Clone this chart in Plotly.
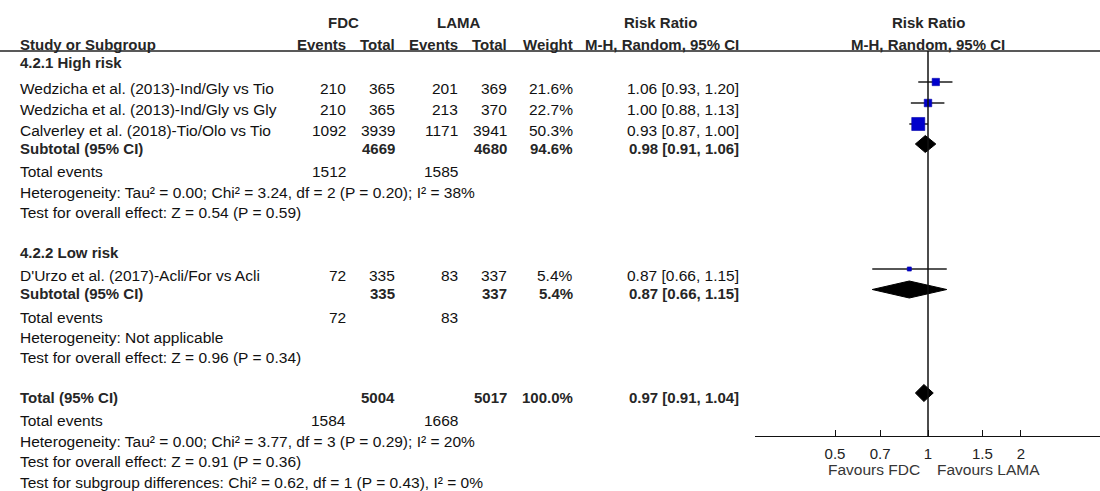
import plotly.graph_objects as go

W, H = 1100, 491
FONT = "Liberation Sans, Arial, sans-serif"
TXT = "#111111"
BOLD = "#262626"
BODY_SIZE = 15.5
HEAD_SIZE = 15

# ---- study-level data ----
studies = [
    "Wedzicha et al. (2013)-Ind/Gly vs Tio",
    "Wedzicha et al. (2013)-Ind/Gly vs Gly",
    "Calverley et al. (2018)-Tio/Olo vs Tio",
    "D'Urzo et al. (2017)-Acli/For vs Acli",
]
fdc_events = [210, 210, 1092, 72]
fdc_total = [365, 365, 3939, 335]
lama_events = [201, 213, 1171, 83]
lama_total = [369, 370, 3941, 337]
weights = [21.6, 22.7, 50.3, 5.4]
rr = [1.06, 1.00, 0.93, 0.87]
rr_lo = [0.93, 0.88, 0.87, 0.66]
rr_hi = [1.20, 1.13, 1.00, 1.15]

# ---- pooled estimates: two subgroups, then overall ----
pooled_labels = ["Subtotal (95% CI)", "Subtotal (95% CI)", "Total (95% CI)"]
pooled_fdc_total = [4669, 335, 5004]
pooled_lama_total = [4680, 337, 5017]
pooled_weight = [94.6, 5.4, 100.0]
pooled_rr = [0.98, 0.87, 0.97]
pooled_lo = [0.91, 0.66, 0.91]
pooled_hi = [1.06, 1.15, 1.04]
pooled_fdc_events = [1512, 72, 1584]
pooled_lama_events = [1585, 83, 1668]
heterogeneity = [
    "Heterogeneity: Tau² = 0.00; Chi² = 3.24, df = 2 (P = 0.20); I² = 38%",
    "Heterogeneity: Not applicable",
    "Heterogeneity: Tau² = 0.00; Chi² = 3.77, df = 3 (P = 0.29); I² = 20%",
]
overall_effect = [
    "Test for overall effect: Z = 0.54 (P = 0.59)",
    "Test for overall effect: Z = 0.96 (P = 0.34)",
    "Test for overall effect: Z = 0.91 (P = 0.36)",
]
subgroup_titles = ["4.2.1 High risk", "4.2.2 Low risk"]
subgroup_diff = "Test for subgroup differences: Chi² = 0.62, df = 1 (P = 0.43), I² = 0%"

tick_values = [0.5, 0.7, 1, 1.5, 2]
tick_labels = ["0.5", "0.7", "1", "1.5", "2"]

# ---- layout of the table (pixel rows / column right edges) ----
title_rows = [62, 252]
study_rows = [88, 109, 130, 275]
pooled_rows = [148, 293.5, 397]
events_rows = [171, 317, 420]
het_rows = [192, 337, 441]
effect_rows = [212, 357, 461]
diff_row = 482
col_right = [348, 397, 460, 509, 575, 741]
LEFT = 18
AXIS_Y = 436
HEADER_LINE_Y = 51

annotations = []


def txt(x, y, s, anchor="left", bold=False, color=None, size=None):
    if size is None:
        size = HEAD_SIZE if bold else BODY_SIZE
    annotations.append(dict(
        x=x / W, xref="paper", y=y, yref="y", text=f"<b>{s}</b>" if bold else s,
        showarrow=False, xanchor=anchor, yanchor="middle",
        font=dict(family=FONT, size=size, color=color or (BOLD if bold else TXT)),
    ))


def fmt_ci(e, lo, hi):
    return f"{e:.2f} [{lo:.2f}, {hi:.2f}]"


# header
txt(343, 22, "FDC", "center", True)
txt(458, 22, "LAMA", "center", True)
txt(660, 22, "Risk Ratio", "center", True)
txt(928, 22, "Risk Ratio", "center", True)
txt(LEFT, 44, "Study or Subgroup", "left", True)
for x, s in zip(col_right, ["Events", "Total", "Events", "Total", "Weight", "M-H, Random, 95% CI"]):
    txt(x, 44, s, "right", True)
txt(928, 44, "M-H, Random, 95% CI", "center", True)

# subgroup titles
for y, s in zip(title_rows, subgroup_titles):
    txt(LEFT, y, s, "left", True)

# study rows
for i, name in enumerate(studies):
    y = study_rows[i]
    txt(LEFT, y, name)
    vals = [str(fdc_events[i]), str(fdc_total[i]), str(lama_events[i]), str(lama_total[i]),
            f"{weights[i]:.1f}%", fmt_ci(rr[i], rr_lo[i], rr_hi[i])]
    for x, s in zip(col_right, vals):
        txt(x, y, s, "right")

# pooled rows + their footers
for k in range(3):
    y = pooled_rows[k]
    txt(LEFT, y, pooled_labels[k], "left", True)
    txt(col_right[1], y, str(pooled_fdc_total[k]), "right", True)
    txt(col_right[3], y, str(pooled_lama_total[k]), "right", True)
    txt(col_right[4], y, f"{pooled_weight[k]:.1f}%", "right", True)
    txt(col_right[5], y, fmt_ci(pooled_rr[k], pooled_lo[k], pooled_hi[k]), "right", True)
    txt(LEFT, events_rows[k], "Total events")
    txt(col_right[0], events_rows[k], str(pooled_fdc_events[k]), "right")
    txt(col_right[2], events_rows[k], str(pooled_lama_events[k]), "right")
    txt(LEFT, het_rows[k], heterogeneity[k])
    txt(LEFT, effect_rows[k], overall_effect[k])
txt(LEFT, diff_row, subgroup_diff)

# favours labels under the axis
txt(922, 469, "Favours FDC", "right", color="#363636", size=15.5)
txt(935, 469, "Favours LAMA", "left", color="#363636", size=15.5)

fig = go.Figure()

# study CIs and weighted squares
for i in range(len(studies)):
    ym = study_rows[i] - 6
    fig.add_trace(go.Scatter(
        x=[rr_lo[i], rr_hi[i]], y=[ym, ym], mode="lines",
        line=dict(color="#1e1e1e", width=1.5), hoverinfo="skip", showlegend=False))
fig.add_trace(go.Scatter(
    x=rr, y=[r - 6 for r in study_rows], mode="markers",
    marker=dict(symbol="square", color="#0000cc", opacity=1,
                size=[3 + 0.2 * w for w in weights],
                line=dict(width=0.6, color="#0000aa")),
    showlegend=False, hoverinfo="skip"))

# pooled diamonds
HALF_H = 8.5
for k in range(3):
    yc = pooled_rows[k] - 4
    fig.add_trace(go.Scatter(
        x=[pooled_lo[k], pooled_rr[k], pooled_hi[k], pooled_rr[k], pooled_lo[k]],
        y=[yc, yc - HALF_H, yc, yc + HALF_H, yc],
        mode="lines", fill="toself", fillcolor="#000000",
        line=dict(color="#000000", width=1), hoverinfo="skip", showlegend=False))

shapes = [
    dict(type="line", xref="paper", x0=0, x1=1, yref="y", y0=HEADER_LINE_Y, y1=HEADER_LINE_Y,
         line=dict(color="#222222", width=1.3)),
    dict(type="line", xref="x", x0=1, x1=1, yref="y", y0=HEADER_LINE_Y, y1=AXIS_Y,
         line=dict(color="#111111", width=1.5)),
]

px_per_dec = 308.9
x_one = 928
fig.update_layout(
    width=W, height=H, margin=dict(l=0, r=0, t=0, b=0),
    paper_bgcolor="white", plot_bgcolor="white",
    annotations=annotations, shapes=shapes,
    xaxis=dict(
        type="log", range=[(755 - x_one) / px_per_dec, (W - x_one) / px_per_dec],
        domain=[755 / W, 1], anchor="free", position=(H - AXIS_Y) / H,
        showline=True, linecolor="#111111", linewidth=1.3,
        ticks="inside", ticklen=6, tickwidth=1.3, tickcolor="#111111",
        tickvals=tick_values, ticktext=tick_labels, ticklabelstandoff=4,
        tickfont=dict(family=FONT, size=15, color="#222222"),
        showgrid=False, zeroline=False, automargin=False, fixedrange=True,
    ),
    yaxis=dict(range=[H, 0], domain=[0, 1], visible=False, fixedrange=True),
    showlegend=False,
)

fig.write_html("out.html")
